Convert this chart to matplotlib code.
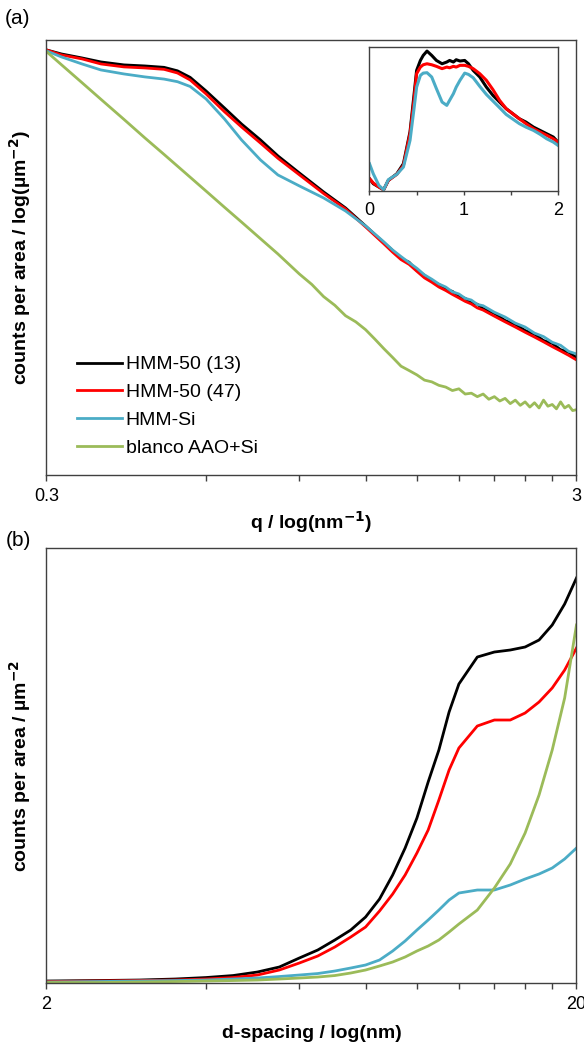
import numpy as np
import matplotlib.pyplot as plt
from matplotlib.ticker import FixedLocator, NullFormatter, NullLocator

plt.rcParams['font.family'] = ['Liberation Sans', 'DejaVu Sans']

# ---- panel (a): q in nm^-1, log10 of counts per area ----
q = [0.30, 0.32, 0.35, 0.38, 0.42, 0.46, 0.50, 0.53, 0.56, 0.60, 0.65, 0.70, 0.76,
     0.82, 0.90, 1.0, 1.1, 1.2, 1.30, 1.35, 1.40, 1.45, 1.50, 1.55, 1.60, 1.65,
     1.70, 1.75, 1.80, 1.85, 1.90, 1.95, 2.00, 2.10, 2.20, 2.30, 2.40, 2.50, 2.60,
     2.70, 2.80, 2.90, 3.00]
hmm13_log = [4.885, 4.839, 4.793, 4.747, 4.713, 4.701, 4.685, 4.645, 4.570, 4.414,
             4.218, 4.034, 3.851, 3.667, 3.471, 3.253, 3.069, 2.862, 2.667, 2.580,
             2.490, 2.445, 2.350, 2.295, 2.225, 2.190, 2.130, 2.110, 2.050, 2.030,
             1.980, 1.962, 1.912, 1.858, 1.775, 1.732, 1.660, 1.618, 1.545, 1.512,
             1.440, 1.410, 1.350]
hmm47_log = [4.885, 4.828, 4.782, 4.724, 4.690, 4.678, 4.662, 4.620, 4.540, 4.380,
             4.175, 4.000, 3.815, 3.640, 3.450, 3.235, 3.057, 2.851, 2.655, 2.560,
             2.475, 2.420, 2.340, 2.265, 2.215, 2.160, 2.120, 2.075, 2.035, 1.995,
             1.965, 1.920, 1.895, 1.825, 1.760, 1.700, 1.640, 1.585, 1.530, 1.475,
             1.425, 1.375, 1.322]
hmmsi_log = [4.874, 4.805, 4.724, 4.655, 4.609, 4.575, 4.550, 4.520, 4.465, 4.322,
             4.092, 3.851, 3.621, 3.448, 3.322, 3.184, 3.034, 2.862, 2.678, 2.585,
             2.510, 2.440, 2.375, 2.300, 2.250, 2.195, 2.160, 2.105, 2.080, 2.030,
             2.010, 1.960, 1.945, 1.870, 1.815, 1.745, 1.700, 1.630, 1.590, 1.525,
             1.490, 1.420, 1.391]
blank_q = [0.30, 0.32, 0.35, 0.38, 0.42, 0.46, 0.50, 0.55, 0.60, 0.65, 0.70, 0.76,
           0.82, 0.90, 0.95, 1.00, 1.05, 1.10, 1.15, 1.20, 1.25, 1.30, 1.35, 1.40,
           1.45, 1.50, 1.55, 1.60, 1.65, 1.70, 1.75, 1.80, 1.85, 1.90, 1.95, 2.00,
           2.05, 2.10, 2.15, 2.20, 2.25, 2.30, 2.35, 2.40, 2.45, 2.50, 2.55, 2.60,
           2.65, 2.70, 2.75, 2.80, 2.85, 2.90, 2.95, 3.00]
blank_log = [4.866, 4.716, 4.509, 4.318, 4.087, 3.874, 3.684, 3.464, 3.263, 3.077,
             2.907, 2.716, 2.540, 2.310, 2.19, 2.05, 1.95, 1.83, 1.76, 1.67, 1.56,
             1.45, 1.35, 1.25, 1.20, 1.15, 1.09, 1.07, 1.03, 1.01, 0.97, 0.99, 0.93,
             0.94, 0.90, 0.93, 0.87, 0.90, 0.85, 0.88, 0.82, 0.86, 0.80, 0.84, 0.78,
             0.83, 0.77, 0.86, 0.79, 0.81, 0.76, 0.84, 0.77, 0.80, 0.74, 0.75]

# ---- inset ----
ins_x = [0, 0.04, 0.10, 0.15, 0.20, 0.29, 0.36, 0.43, 0.47, 0.50, 0.54, 0.57, 0.61,
         0.66, 0.71, 0.77, 0.82, 0.85, 0.89, 0.92, 0.96, 1.01, 1.05, 1.10, 1.17,
         1.24, 1.31, 1.38, 1.45, 1.52, 1.59, 1.66, 1.74, 1.81, 1.88, 1.95, 2.0]
ins_13 = [0.086, 0.051, 0.028, 0.009, 0.074, 0.120, 0.190, 0.412, 0.653, 0.838,
          0.907, 0.942, 0.972, 0.942, 0.907, 0.884, 0.896, 0.907, 0.896, 0.912,
          0.903, 0.907, 0.884, 0.838, 0.792, 0.722, 0.664, 0.618, 0.572, 0.537,
          0.502, 0.479, 0.444, 0.421, 0.398, 0.375, 0.340]
ins_47 = [0.086, 0.056, 0.028, 0.009, 0.074, 0.116, 0.178, 0.398, 0.618, 0.815,
          0.861, 0.877, 0.884, 0.877, 0.866, 0.850, 0.861, 0.856, 0.866, 0.861,
          0.873, 0.873, 0.866, 0.850, 0.815, 0.769, 0.704, 0.630, 0.572, 0.537,
          0.502, 0.468, 0.433, 0.410, 0.387, 0.363, 0.340]
ins_si = [0.190, 0.120, 0.039, 0.009, 0.079, 0.116, 0.167, 0.352, 0.560, 0.722,
          0.803, 0.819, 0.822, 0.792, 0.711, 0.618, 0.595, 0.630, 0.676, 0.722,
          0.769, 0.819, 0.810, 0.787, 0.727, 0.671, 0.625, 0.579, 0.532, 0.500,
          0.468, 0.444, 0.421, 0.394, 0.363, 0.340, 0.317]

# ---- panel (b): d-spacing in nm ----
d = [2, 2.5, 3, 3.5, 4, 4.5, 5, 5.5, 6, 6.5, 7, 7.5, 8, 8.5, 9, 9.5, 10, 10.5, 11,
     11.5, 12, 13, 14, 15, 16, 17, 18, 19, 20]
b_13 = [0.46, 0.57, 0.69, 0.92, 1.26, 1.72, 2.53, 3.68, 5.75, 7.59, 9.89, 12.18,
        15.17, 19.31, 24.83, 31.03, 37.93, 46.21, 53.56, 62.30, 68.74, 74.94, 76.09,
        76.55, 77.24, 78.85, 82.30, 87.13, 93.10]
b_47 = [0.34, 0.46, 0.57, 0.69, 0.92, 1.26, 1.84, 2.99, 4.60, 6.21, 8.28, 10.57,
        12.87, 16.55, 20.46, 24.83, 29.89, 35.17, 42.07, 48.97, 54.02, 59.08, 60.46,
        60.46, 62.07, 64.60, 67.82, 71.95, 77.01]
b_si = [0.23, 0.34, 0.46, 0.57, 0.69, 0.92, 1.15, 1.49, 1.84, 2.18, 2.76, 3.45,
        4.14, 5.29, 7.36, 9.66, 12.18, 14.48, 16.78, 19.08, 20.69, 21.38, 21.38,
        22.53, 23.91, 25.06, 26.44, 28.51, 31.03]
b_blank = [0.11, 0.11, 0.23, 0.34, 0.46, 0.57, 0.69, 0.92, 1.15, 1.38, 1.72, 2.30,
           2.99, 3.91, 4.83, 5.98, 7.36, 8.51, 9.89, 11.72, 13.56, 16.78, 21.84,
           27.36, 34.48, 43.22, 53.56, 65.52, 82.30]

labels = ['HMM-50 (13)', 'HMM-50 (47)', 'HMM-Si', 'blanco AAO+Si']
colors = ['#000000', '#FF0000', '#4BACC6', '#9BBB59']

spine_col = '#404040'
fs_tick = 13
fs = 14

fig = plt.figure(figsize=(5.84, 10.48), dpi=100)
ax1 = fig.add_axes([0.0796, 0.5468, 0.9075, 0.4151])
ax2 = fig.add_axes([0.0796, 0.0620, 0.9075, 0.4151])
axi = fig.add_axes([0.6327, 0.8177, 0.3228, 0.1374])

lw = 2.0
ax1.plot(q, 10 ** np.array(hmm13_log), color=colors[0], lw=lw, label=labels[0])
ax1.plot(q, 10 ** np.array(hmm47_log), color=colors[1], lw=lw, label=labels[1])
ax1.plot(q, 10 ** np.array(hmmsi_log), color=colors[2], lw=lw, label=labels[2])
ax1.plot(blank_q, 10 ** np.array(blank_log), color=colors[3], lw=lw, label=labels[3])
ax1.set_xscale('log')
ax1.set_yscale('log')
ax1.set_xlim(0.3, 3)
ax1.set_ylim(1, 1e5)

ax2.plot(d, b_13, color=colors[0], lw=lw)
ax2.plot(d, b_47, color=colors[1], lw=lw)
ax2.plot(d, b_si, color=colors[2], lw=lw)
ax2.plot(d, b_blank, color=colors[3], lw=lw)
ax2.set_xscale('log')
ax2.set_xlim(2, 20)
ax2.set_ylim(0, 100)

for ax, lo, hi in [(ax1, 0.3, 3), (ax2, 2, 20)]:
    ax.xaxis.set_major_locator(FixedLocator([lo, hi]))
    ax.xaxis.set_major_formatter(plt.FixedFormatter([f'{lo:g}', f'{hi:g}']))
    ax.xaxis.set_minor_locator(FixedLocator([lo * k for k in range(2, 10)]))
    ax.xaxis.set_minor_formatter(NullFormatter())
    ax.yaxis.set_major_locator(NullLocator())
    ax.yaxis.set_minor_locator(NullLocator())
    ax.tick_params(axis='x', which='both', direction='out', length=4.5, width=1,
                   color=spine_col, pad=5, labelsize=fs_tick)
    for s in ax.spines.values():
        s.set_color(spine_col)
        s.set_linewidth(1)

ax1.set_xlabel('q / log(nm$^{\\mathbf{-1}}$)', fontsize=fs, fontweight='bold')
ax1.set_ylabel('counts per area / log(µm$^{\\mathbf{-2}}$)', fontsize=fs, fontweight='bold')
ax2.set_xlabel('d-spacing / log(nm)', fontsize=fs, fontweight='bold')
ax2.set_ylabel('counts per area / µm$^{\\mathbf{-2}}$', fontsize=fs, fontweight='bold')
ax1.xaxis.set_label_coords(0.5, -0.108)
ax2.xaxis.set_label_coords(0.5, -0.115)
for ax in (ax1, ax2):
    ax.xaxis.label.set_va('center')
    ax.yaxis.set_label_coords(-0.05, 0.5)
    ax.yaxis.label.set_va('center')

ax1.legend(loc='upper left', bbox_to_anchor=(0.0575, 0.274), frameon=False, fontsize=fs,
           handlelength=2.3, handletextpad=0.2, labelspacing=0.52, borderaxespad=0,
           borderpad=0)

# inset
axi.plot(ins_x, ins_13, color=colors[0], lw=2.2)
axi.plot(ins_x, ins_47, color=colors[1], lw=2.2)
axi.plot(ins_x, ins_si, color=colors[2], lw=2.2)
axi.set_xlim(0, 2)
axi.set_ylim(0, 1)
axi.xaxis.set_major_locator(FixedLocator([0, 1, 2]))
axi.xaxis.set_minor_locator(FixedLocator([0.5, 1.5]))
axi.yaxis.set_major_locator(NullLocator())
axi.tick_params(axis='x', which='both', direction='out', length=3, width=1,
                color=spine_col, pad=5, labelsize=fs_tick)
for s in axi.spines.values():
    s.set_color(spine_col)
    s.set_linewidth(1)

fig.text(18 / 584, 1 - 18 / 1048, '(a)', fontsize=15, ha='center', va='center')
fig.text(18 / 584, 1 - 540 / 1048, '(b)', fontsize=15, ha='center', va='center')

fig.savefig('out.png', dpi=100)
